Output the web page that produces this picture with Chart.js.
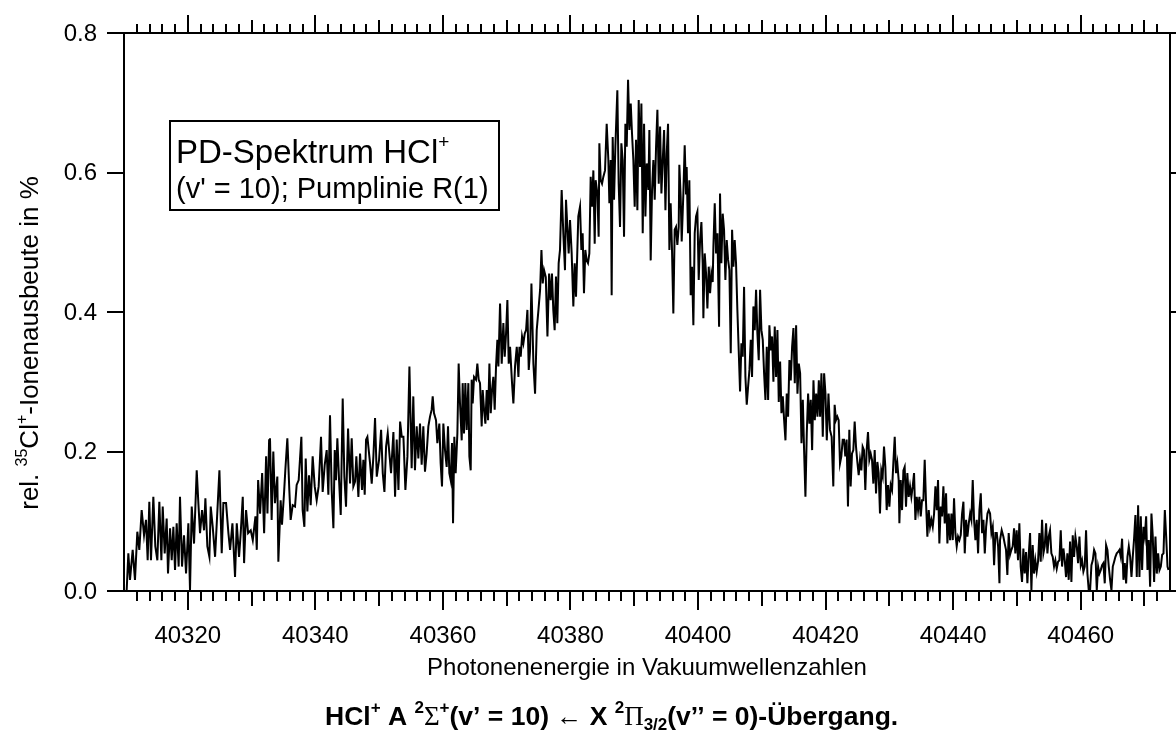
<!DOCTYPE html>
<html>
<head>
<meta charset="utf-8">
<title>PD-Spektrum HCl+</title>
<script src="https://cdn.jsdelivr.net/npm/chart.js@4.4.1/dist/chart.umd.min.js"></script>
<style>
  html, body { margin: 0; padding: 0; background: #fff; }
  #pdChart { display: block; }
</style>
</head>
<body>
<canvas id="pdChart" width="1176" height="736"></canvas>
<script>
// axis ranges and tick labels
const xMin = 40310, xMax = 40474;
const yMin = 0, yMax = 0.8;
const xTickLabels = [40320, 40340, 40360, 40380, 40400, 40420, 40440, 40460];
const yTickLabels = [0.0, 0.2, 0.4, 0.6, 0.8];

// spectrum, [wavenumber, rel. yield %], split by region
const specStart = [
  [40310.42,0.001],[40310.68,0.054],[40310.94,0.016],[40311.36,0.059],[40311.72,0.016],[40312.09,0.085],
  [40312.40,0.059],[40312.77,0.116],[40313.14,0.080],[40313.45,0.102],[40313.71,0.044],[40313.97,0.128],
  [40314.23,0.044],[40314.60,0.135],[40314.91,0.064],[40315.23,0.044],[40315.54,0.128],[40315.86,0.044],
  [40316.07,0.121],[40316.38,0.054],[40316.69,0.104],[40316.90,0.025],[40317.22,0.090],[40317.48,0.044],
  [40317.74,0.092],[40318.00,0.030],[40318.26,0.097],[40318.57,0.035],[40318.78,0.135],[40319.10,0.035],
  [40319.41,0.080],[40319.73,0.025],[40320.09,0.097],[40320.35,0.001],[40320.62,0.121],[40320.98,0.068],
  [40321.40,0.173],[40321.66,0.126],[40321.92,0.083],[40322.24,0.116],[40322.55,0.087],[40322.76,0.133],
  [40323.07,0.064],[40323.39,0.049],[40323.60,0.121],[40323.91,0.092],[40324.28,0.049],[40324.96,0.173],
  [40325.32,0.054],[40325.58,0.126],[40326.00,0.126],[40326.37,0.083],[40326.63,0.059],[40327.00,0.097],
  [40327.41,0.020],[40327.68,0.097],[40328.04,0.049],[40328.30,0.083],[40328.62,0.135],[40328.83,0.040],
  [40329.14,0.116],[40329.46,0.083],[40329.87,0.087],[40330.19,0.073],[40330.61,0.107],[40330.82,0.059],
  [40331.03,0.159],[40331.34,0.111],[40331.66,0.169],[40331.97,0.083],[40332.28,0.193],[40332.49,0.111],
  [40332.75,0.216]
];
const specLowRise = [
  [40332.89,0.219],[40333.15,0.102],[40333.41,0.200],[40333.67,0.126],[40334.04,0.164],[40334.20,0.042],
  [40334.56,0.130],[40334.77,0.095],[40335.09,0.140],[40335.30,0.174],[40335.61,0.219],[40335.92,0.145],
  [40336.13,0.102],[40336.45,0.123],[40336.81,0.121],[40337.07,0.152],[40337.39,0.159],[40337.81,0.221],
  [40338.01,0.116],[40338.28,0.092],[40338.49,0.190],[40338.75,0.114],[40339.01,0.166],[40339.27,0.123],
  [40339.58,0.193],[40339.90,0.150],[40340.21,0.130],[40340.52,0.150],[40340.89,0.221],[40341.15,0.142],
  [40341.47,0.181],[40341.78,0.202],[40342.04,0.138],[40342.30,0.252],[40342.56,0.145],[40342.83,0.090],
  [40343.04,0.202],[40343.24,0.159],[40343.45,0.219],[40343.72,0.159],[40343.98,0.109],[40344.29,0.276],
  [40344.55,0.164],[40344.81,0.121],[40345.13,0.233],[40345.44,0.154],[40345.70,0.219],[40345.96,0.150],
  [40346.23,0.157],[40346.43,0.193],[40346.75,0.135],[40347.01,0.197],[40347.32,0.145],[40347.53,0.188],
  [40347.74,0.138],[40347.95,0.217],[40348.16,0.221],[40348.58,0.183],[40348.84,0.154],[40349.10,0.193],
  [40349.36,0.248],[40349.63,0.164],[40349.99,0.188],[40350.31,0.231],[40350.57,0.169],[40350.83,0.142],
  [40351.09,0.207],[40351.35,0.226],[40351.61,0.197],[40351.87,0.169],[40352.24,0.228],[40352.50,0.135],
  [40352.76,0.217],[40353.03,0.145],[40353.29,0.243],[40353.55,0.221],[40353.81,0.221],[40354.12,0.145],
  [40354.44,0.193],[40354.75,0.322]
];
const specRise = [
  [40355.10,0.176],[40355.36,0.279],[40355.62,0.173],[40355.89,0.236],[40356.15,0.190],[40356.41,0.240],
  [40356.67,0.181],[40356.93,0.236],[40357.19,0.171],[40357.45,0.197],[40357.72,0.236],[40357.98,0.250],
  [40358.24,0.260],[40358.40,0.279],[40358.60,0.255],[40358.92,0.245],[40359.13,0.212],[40359.44,0.240],
  [40359.65,0.183],[40359.86,0.150],[40360.07,0.240],[40360.33,0.202],[40360.59,0.178],[40360.80,0.236],
  [40361.01,0.169],[40361.22,0.159],[40361.43,0.212],[40361.59,0.097],[40361.79,0.221],[40362.00,0.169],
  [40362.27,0.226],[40362.47,0.326],[40362.68,0.269],[40362.95,0.216],[40363.10,0.298],[40363.31,0.226],
  [40363.52,0.298],[40363.73,0.231],[40363.99,0.298],[40364.15,0.193],[40364.36,0.173],[40364.51,0.303],
  [40364.67,0.269],[40364.88,0.307],[40365.19,0.303],[40365.40,0.326],[40365.61,0.303],[40365.82,0.298],
  [40366.08,0.236],[40366.24,0.288],[40366.45,0.260],[40366.66,0.240],[40366.87,0.288],[40367.08,0.245],
  [40367.29,0.326],[40367.50,0.255],[40367.70,0.288],[40367.91,0.307],[40368.12,0.260],[40368.33,0.322],
  [40368.54,0.360],[40368.70,0.322],[40368.96,0.412],[40369.22,0.326],[40369.48,0.384],[40369.69,0.336],
  [40369.90,0.369],[40370.11,0.417],[40370.32,0.326],[40370.53,0.350],[40370.84,0.298],[40371.05,0.269],
  [40371.31,0.322],[40371.58,0.350],[40371.84,0.307],[40372.00,0.350],[40372.20,0.336],[40372.41,0.365],
  [40372.62,0.355],[40372.83,0.369],[40373.04,0.374],[40373.25,0.403],[40373.46,0.317],[40373.67,0.346],
  [40373.88,0.441],[40374.19,0.326],[40374.45,0.283],[40374.71,0.374],[40374.98,0.403],[40375.24,0.432],
  [40375.45,0.489],[40375.65,0.441],[40375.86,0.460],[40376.13,0.450],[40376.39,0.365],[40376.65,0.455]
];
const specPeak = [
  [40376.89,0.417],[40377.10,0.455],[40377.31,0.403],[40377.52,0.374],[40377.73,0.451],[40377.94,0.384],
  [40378.15,0.470],[40378.36,0.489],[40378.62,0.575],[40378.88,0.513],[40379.14,0.460],[40379.30,0.561],
  [40379.51,0.522],[40379.72,0.484],[40379.93,0.532],[40380.19,0.484],[40380.45,0.408],[40380.66,0.470],
  [40380.87,0.422],[40381.08,0.489],[40381.23,0.537],[40381.50,0.551],[40381.71,0.489],[40381.91,0.513],
  [40382.12,0.427],[40382.33,0.489],[40382.54,0.474],[40382.75,0.470],[40382.96,0.484],[40383.17,0.594],
  [40383.38,0.551],[40383.59,0.603],[40383.80,0.498],[40383.95,0.589],[40384.22,0.570],[40384.42,0.508],
  [40384.53,0.642],[40384.74,0.589],[40384.95,0.584],[40385.16,0.594],[40385.42,0.603],[40385.68,0.670],
  [40385.94,0.618],[40386.10,0.556],[40386.31,0.618],[40386.46,0.424],[40386.62,0.651],[40386.83,0.561],
  [40387.04,0.637],[40387.35,0.718],[40387.56,0.584],[40387.77,0.522],[40387.98,0.642],[40388.19,0.618],
  [40388.40,0.508],[40388.61,0.670],[40388.82,0.637],[40389.03,0.733],[40389.24,0.661],[40389.45,0.699],
  [40389.65,0.656],[40389.86,0.618],[40390.07,0.551],[40390.28,0.647],[40390.49,0.546],[40390.70,0.704],
  [40390.91,0.608],[40391.12,0.699],[40391.33,0.513],[40391.54,0.670],[40391.75,0.537],[40391.96,0.613],
  [40392.22,0.575],[40392.37,0.661],[40392.58,0.474],[40392.79,0.575],[40393.00,0.618],[40393.21,0.561],
  [40393.42,0.637],[40393.63,0.690],[40393.84,0.584],[40394.05,0.666],[40394.26,0.570],[40394.47,0.618],
  [40394.68,0.661],[40394.89,0.546],[40395.09,0.627],[40395.30,0.670],[40395.51,0.489]
];
const specFall = [
  [40395.71,0.556],[40395.92,0.489],[40396.13,0.398],[40396.34,0.518],[40396.55,0.522],[40396.76,0.496],
  [40396.97,0.522],[40397.07,0.611],[40397.28,0.565],[40397.44,0.501],[40397.70,0.570],[40397.91,0.639],
  [40398.12,0.570],[40398.22,0.608],[40398.43,0.513],[40398.64,0.589],[40398.85,0.424],[40399.06,0.465],
  [40399.27,0.381],[40399.48,0.513],[40399.69,0.537],[40399.90,0.544],[40400.11,0.446],[40400.32,0.503],
  [40400.53,0.529],[40400.73,0.470],[40400.84,0.391],[40401.05,0.484],[40401.26,0.455],[40401.47,0.405],
  [40401.68,0.465],[40401.89,0.427],[40402.09,0.455],[40402.30,0.443],[40402.41,0.494],[40402.62,0.556],
  [40402.83,0.484],[40403.04,0.513],[40403.30,0.379],[40403.45,0.570],[40403.66,0.470],[40403.87,0.541],
  [40404.08,0.518],[40404.29,0.446],[40404.50,0.503],[40404.71,0.475],[40404.92,0.460],[40405.13,0.341],
  [40405.34,0.518],[40405.55,0.465],[40405.75,0.503],[40405.96,0.470],[40406.17,0.403],[40406.38,0.345],
  [40406.59,0.286],[40406.80,0.355],[40407.01,0.336],[40407.22,0.436],[40407.43,0.307],[40407.64,0.267],
  [40407.85,0.293],[40408.06,0.317],[40408.27,0.360],[40408.47,0.307],[40408.68,0.408],[40408.89,0.374],
  [40409.10,0.432],[40409.31,0.369],[40409.52,0.331],[40409.73,0.432],[40409.94,0.374],[40410.15,0.360],
  [40410.36,0.312],[40410.57,0.274],[40410.78,0.350],[40410.99,0.274],[40411.19,0.381],[40411.40,0.345],
  [40411.61,0.365],[40411.82,0.300],[40412.03,0.379],[40412.24,0.307],[40412.45,0.374],[40412.66,0.271],
  [40412.87,0.329],[40413.08,0.255],[40413.29,0.279],[40413.50,0.245],[40413.71,0.216],[40413.91,0.283],
  [40414.12,0.250],[40414.33,0.331],[40414.54,0.302],[40414.75,0.350],[40414.96,0.377],[40415.17,0.298],
  [40415.38,0.381],[40415.59,0.283],[40415.80,0.326],[40416.01,0.312],[40416.22,0.212],[40416.43,0.274],
  [40416.63,0.202],[40416.84,0.135],[40417.05,0.226],[40417.26,0.283],[40417.47,0.240],[40417.68,0.274],
  [40417.89,0.202],[40418.10,0.302],[40418.31,0.245],[40418.52,0.283],[40418.73,0.250],[40418.94,0.302],
  [40419.14,0.250],[40419.35,0.312],[40419.56,0.221],[40419.77,0.312],[40419.98,0.283],[40420.19,0.216],
  [40420.45,0.283]
];
const specTail = [
  [40420.69,0.231],[40420.95,0.221],[40421.21,0.150],[40421.42,0.267],[40421.63,0.245],[40421.84,0.250],
  [40422.05,0.245],[40422.26,0.183],[40422.47,0.193],[40422.68,0.217],[40422.89,0.217],[40423.09,0.193],
  [40423.30,0.217],[40423.51,0.121],[40423.72,0.231],[40423.93,0.150],[40424.14,0.197],[40424.35,0.202],
  [40424.56,0.243],[40424.77,0.207],[40424.98,0.185],[40425.19,0.166],[40425.40,0.188],[40425.61,0.173],
  [40425.81,0.207],[40426.02,0.202],[40426.23,0.145],[40426.44,0.202],[40426.65,0.228],[40426.86,0.188],
  [40427.07,0.197],[40427.28,0.188],[40427.49,0.154],[40427.70,0.202],[40427.91,0.140],[40428.12,0.185],
  [40428.32,0.169],[40428.53,0.111],[40428.74,0.173],[40428.95,0.164],[40429.16,0.207],[40429.37,0.178],
  [40429.58,0.116],[40429.79,0.152],[40430.00,0.121],[40430.21,0.152],[40430.42,0.145],[40430.63,0.185],
  [40430.84,0.221],[40431.04,0.169],[40431.25,0.183],[40431.46,0.159],[40431.57,0.097],[40431.78,0.159],
  [40431.99,0.116],[40432.20,0.173],[40432.40,0.178],[40432.61,0.121],[40432.82,0.169],[40433.03,0.135],
  [40433.24,0.150],[40433.45,0.135],[40433.66,0.150],[40433.87,0.169],[40434.08,0.102],[40434.29,0.135],
  [40434.50,0.116],[40434.71,0.135],[40434.92,0.107],[40435.12,0.130],[40435.33,0.130],[40435.54,0.188],
  [40435.75,0.126],[40435.96,0.078],[40436.17,0.116],[40436.38,0.092],[40436.59,0.102],[40436.80,0.092],
  [40437.01,0.111],[40437.22,0.150],[40437.43,0.116],[40437.63,0.159],[40437.84,0.068],[40438.05,0.121],
  [40438.26,0.107],[40438.47,0.150],[40438.68,0.097],[40438.89,0.140],[40439.10,0.068],[40439.31,0.111],
  [40439.52,0.073],[40439.73,0.111],[40439.94,0.073],[40440.14,0.133],[40440.35,0.083],[40440.56,0.064],
  [40440.77,0.078],[40440.98,0.073],[40441.19,0.080],[40441.40,0.111],[40441.61,0.128],[40441.82,0.054],
  [40442.03,0.102],[40442.24,0.078],[40442.45,0.097],[40442.66,0.111],[40442.86,0.102],[40443.07,0.159],
  [40443.28,0.102],[40443.49,0.073],[40443.70,0.102],[40443.91,0.054],[40444.12,0.116],[40444.33,0.140],
  [40444.54,0.083],[40444.75,0.102],[40444.96,0.054],[40445.17,0.092],[40445.38,0.111],[40445.58,0.116],
  [40445.79,0.111],[40446.00,0.083],[40446.21,0.092],[40446.42,0.037],[40446.63,0.083],[40446.84,0.083],
  [40447.05,0.064],[40447.26,0.011]
];
const specEnd = [
  [40447.35,0.073],[40447.61,0.087],[40447.87,0.078],[40448.08,0.068],[40448.29,0.059],[40448.50,0.023],
  [40448.71,0.083],[40448.92,0.052],[40449.13,0.059],[40449.34,0.064],[40449.55,0.090],[40449.75,0.054],
  [40449.96,0.087],[40450.17,0.044],[40450.38,0.097],[40450.59,0.035],[40450.80,0.013],[40451.01,0.061],
  [40451.22,0.025],[40451.43,0.056],[40451.64,0.011],[40451.85,0.052],[40452.06,0.083],[40452.27,0.001],
  [40452.47,0.066],[40452.68,0.025],[40452.89,0.044],[40453.10,0.028],[40453.31,0.042],[40453.52,0.083],
  [40453.73,0.042],[40453.94,0.102],[40454.15,0.054],[40454.36,0.064],[40454.57,0.097],[40454.78,0.054],
  [40454.98,0.078],[40455.19,0.087],[40455.40,0.054],[40455.61,0.049],[40455.82,0.035],[40456.03,0.044],
  [40456.24,0.032],[40456.45,0.042],[40456.66,0.044],[40456.87,0.087],[40457.08,0.035],[40457.29,0.061],
  [40457.50,0.044],[40457.70,0.020],[40457.91,0.054],[40458.12,0.016],[40458.33,0.071],[40458.54,0.013],
  [40458.75,0.080],[40458.96,0.049],[40459.17,0.078],[40459.38,0.064],[40459.59,0.040],[40459.80,0.078],
  [40460.01,0.037],[40460.21,0.044],[40460.42,0.028],[40460.63,0.035],[40460.84,0.087],[40461.05,0.025],
  [40461.26,0.001],[40461.47,0.001],[40461.68,0.037],[40461.89,0.044],[40462.10,0.059],[40462.31,0.054],
  [40462.52,0.001],[40462.73,0.035],[40462.93,0.025],[40463.14,0.030],[40463.35,0.037],[40463.56,0.040],
  [40463.77,0.011],[40463.98,0.066],[40464.19,0.059],[40464.40,0.035],[40464.61,0.016],[40464.82,0.001],
  [40465.03,0.035],[40465.24,0.042],[40465.44,0.049],[40465.65,0.054],[40465.86,0.056],[40466.07,0.059],
  [40466.28,0.049],[40466.49,0.075],[40466.70,0.016],[40466.91,0.040],[40467.12,0.011],[40467.33,0.049],
  [40467.54,0.064],[40467.75,0.049],[40467.96,0.020],[40468.16,0.049],[40468.37,0.075],[40468.58,0.109],
  [40468.79,0.020],[40469.00,0.123],[40469.21,0.020],[40469.42,0.107],[40469.63,0.030],[40469.84,0.092],
  [40470.05,0.078],[40470.26,0.107],[40470.47,0.030],[40470.67,0.073],[40470.88,0.006],[40471.09,0.111],
  [40471.30,0.078],[40471.51,0.013],[40471.72,0.078],[40471.93,0.025],[40472.14,0.054],[40472.35,0.030],
  [40472.56,0.035],[40472.77,0.052],[40472.98,0.054],[40473.19,0.116],[40473.40,0.078],[40473.61,0.035],
  [40473.76,0.030]
];

const spectrum = [].concat(specStart, specLowRise, specRise, specPeak, specFall, specTail, specEnd)
  .map(p => ({ x: p[0], y: p[1] }));

const SANS = '"Liberation Sans", Arial, Helvetica, sans-serif';
const SERIF = '"Liberation Serif", "Times New Roman", serif';

// draws a run of text pieces with their own font and baseline shift
function drawRich(ctx, parts, x, y, align) {
  let total = 0;
  parts.forEach(p => {
    ctx.font = p.font;
    p.w = ctx.measureText(p.text).width;
    total += p.w;
  });
  let cx = align === 'center' ? x - total / 2 : x;
  ctx.textAlign = 'left';
  ctx.textBaseline = 'alphabetic';
  parts.forEach(p => {
    ctx.font = p.font;
    ctx.fillText(p.text, cx, y + (p.dy || 0));
    cx += p.w;
  });
}

const igorFrame = {
  id: 'igorFrame',
  afterDraw(chart) {
    const { ctx, chartArea: a } = chart;
    const xs = chart.scales.x, ys = chart.scales.y;
    ctx.save();
    ctx.strokeStyle = '#000';
    ctx.fillStyle = '#000';
    ctx.lineWidth = 2;
    ctx.strokeRect(a.left, a.top, a.right - a.left, a.bottom - a.top);

    // x ticks every 2, longer at 10 and 20
    ctx.beginPath();
    for (let v = xMin + 2; v < xMax; v += 2) {
      const px = Math.round(xs.getPixelForValue(v));
      const major = v % 20 === 0, mid = v % 10 === 0;
      ctx.moveTo(px, a.bottom);
      ctx.lineTo(px, a.bottom + (major ? 19 : mid ? 15 : 10));
      ctx.moveTo(px, a.top);
      ctx.lineTo(px, a.top - (major ? 18 : mid ? 13 : 9));
    }
    yTickLabels.forEach(v => {
      const py = Math.round(ys.getPixelForValue(v));
      ctx.moveTo(a.left - 17, py);
      ctx.lineTo(a.left, py);
      ctx.moveTo(a.right, py);
      ctx.lineTo(a.right + 17, py);
    });
    ctx.stroke();

    // tick labels
    ctx.font = '24px ' + SANS;
    ctx.textAlign = 'center';
    ctx.textBaseline = 'alphabetic';
    xTickLabels.forEach(v => {
      ctx.fillText(String(v), xs.getPixelForValue(v), 643);
    });
    ctx.textAlign = 'right';
    ctx.textBaseline = 'middle';
    yTickLabels.forEach(v => {
      ctx.fillText(v.toFixed(1), 97, ys.getPixelForValue(v) + 1);
    });

    // axis titles
    ctx.font = '24px ' + SANS;
    ctx.textAlign = 'center';
    ctx.textBaseline = 'alphabetic';
    ctx.fillText('Photonenenergie in Vakuumwellenzahlen', (a.left + a.right) / 2, 675);

    ctx.save();
    ctx.translate(38, 343);
    ctx.rotate(-Math.PI / 2);
    drawRich(ctx, [
      { text: 'rel. ', font: '26px ' + SANS },
      { text: '35', font: '16px ' + SANS, dy: -11 },
      { text: 'Cl', font: '26px ' + SANS },
      { text: '+', font: '16px ' + SANS, dy: -11 },
      { text: '-Ionenausbeute in %', font: '26px ' + SANS }
    ], 0, 0, 'center');
    ctx.restore();

    // caption below the plot
    const b = 'bold 26.5px ' + SANS, bs = 'bold 17px ' + SANS;
    drawRich(ctx, [
      { text: 'HCl', font: b },
      { text: '+', font: bs, dy: -12 },
      { text: ' A ', font: b },
      { text: '2', font: bs, dy: -12 },
      { text: 'Σ', font: '27px ' + SERIF },
      { text: '+', font: bs, dy: -12 },
      { text: '(v’ = 10) ', font: b },
      { text: '←', font: '26px ' + SERIF },
      { text: ' X ', font: b },
      { text: '2', font: bs, dy: -12 },
      { text: 'Π', font: '27px ' + SERIF },
      { text: '3/2', font: bs, dy: 5 },
      { text: '(v’’ = 0)-Übergang.', font: b }
    ], 325, 725, 'left');

    // label box inside the plot
    ctx.lineWidth = 2;
    ctx.strokeRect(170, 121, 329, 89);
    drawRich(ctx, [
      { text: 'PD-Spektrum HCl', font: '33px ' + SANS },
      { text: '+', font: '19px ' + SANS, dy: -15 }
    ], 176, 163, 'left');
    drawRich(ctx, [
      { text: "(v' = 10); Pumplinie R(1)", font: '29px ' + SANS }
    ], 176, 198, 'left');
    ctx.restore();
  }
};

const ctx = document.getElementById('pdChart').getContext('2d');
const pdChart = new Chart(ctx, {
  type: 'line',
  data: {
    datasets: [{
      data: spectrum,
      borderColor: '#000',
      borderWidth: 2,
      pointRadius: 0,
      tension: 0,
      fill: false
    }]
  },
  options: {
    responsive: false,
    animation: false,
    devicePixelRatio: 1,
    layout: { padding: { left: 124, right: 6, top: 33, bottom: 145 } },
    plugins: { legend: { display: false }, tooltip: { enabled: false } },
    scales: {
      x: { type: 'linear', min: xMin, max: xMax, display: false },
      y: { min: yMin, max: yMax, display: false }
    }
  },
  plugins: [igorFrame]
});
</script>
</body>
</html>
